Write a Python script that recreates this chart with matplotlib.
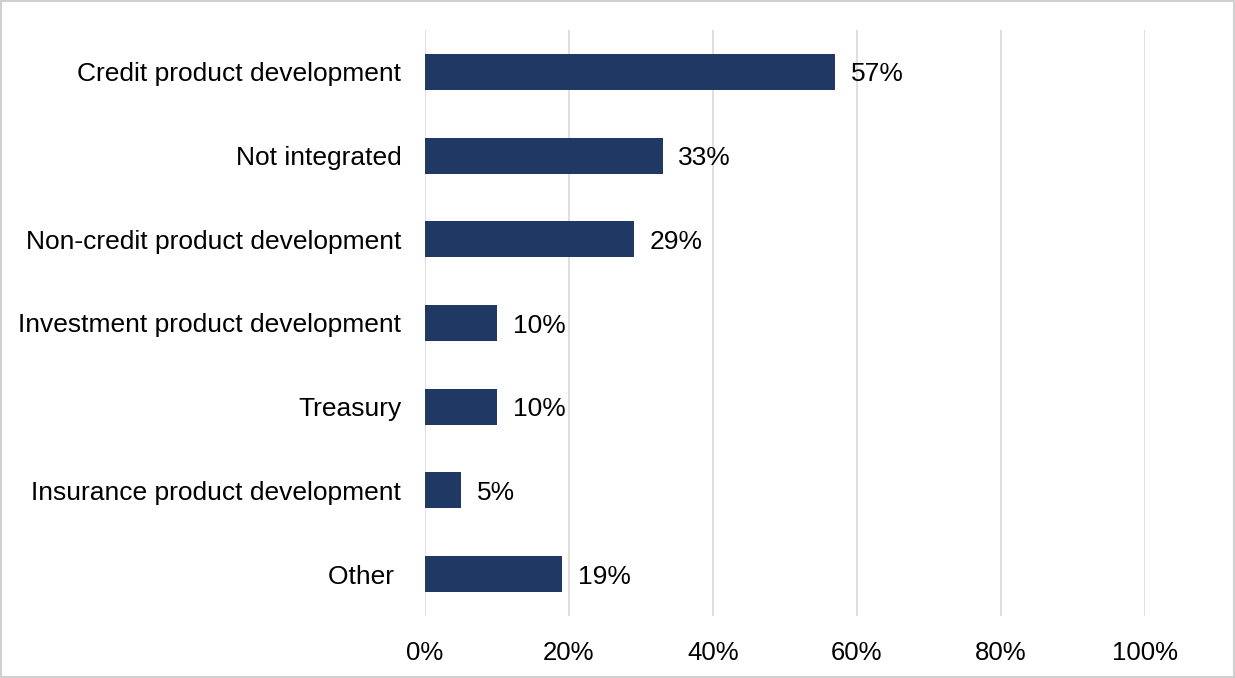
import matplotlib.pyplot as plt
from matplotlib.patches import Rectangle

# survey shares, top to bottom
categories = ['Credit product development', 'Not integrated',
              'Non-credit product development', 'Investment product development',
              'Treasury', 'Insurance product development', 'Other ']
shares = [57, 33, 29, 10, 10, 5, 19]
xticks = [0, 20, 40, 60, 80, 100]

plt.rcParams['font.family'] = ['Liberation Sans', 'DejaVu Sans']

navy = '#1f3864'
grid_col = '#d9d9d9'

fig = plt.figure(figsize=(12.35, 6.78), dpi=100)
ax = fig.add_axes([0.3441, 0.0914, 0.5830, 0.8644])

ypos = list(range(len(categories)))
ax.barh(ypos, shares, height=0.43, color=navy, zorder=3)
for y, v in zip(ypos, shares):
    ax.text(v + 2.2, y + 0.03, f'{v}%', va='center', ha='left', fontsize=19, color='black')

ax.set_xlim(0, 100)
ax.set_ylim(len(categories) - 0.5, -0.5)
ax.set_yticks(ypos)
ax.set_yticklabels(categories, fontsize=19)
ax.set_xticks(xticks)
ax.set_xticklabels([f'{t}%' for t in xticks], fontsize=18.5)
ax.tick_params(axis='both', length=0)
ax.tick_params(axis='y', pad=17)
ax.tick_params(axis='x', pad=18)

ax.xaxis.grid(True, color=grid_col, linewidth=1.2, zorder=0)
for s in ax.spines.values():
    s.set_visible(False)

# thin frame around the whole figure
fig.patches.append(Rectangle((0.001, 0.002), 0.998, 0.996, transform=fig.transFigure,
                             fill=False, edgecolor='#d0d0d0', linewidth=1.5))

fig.savefig('out.png', dpi=100)
